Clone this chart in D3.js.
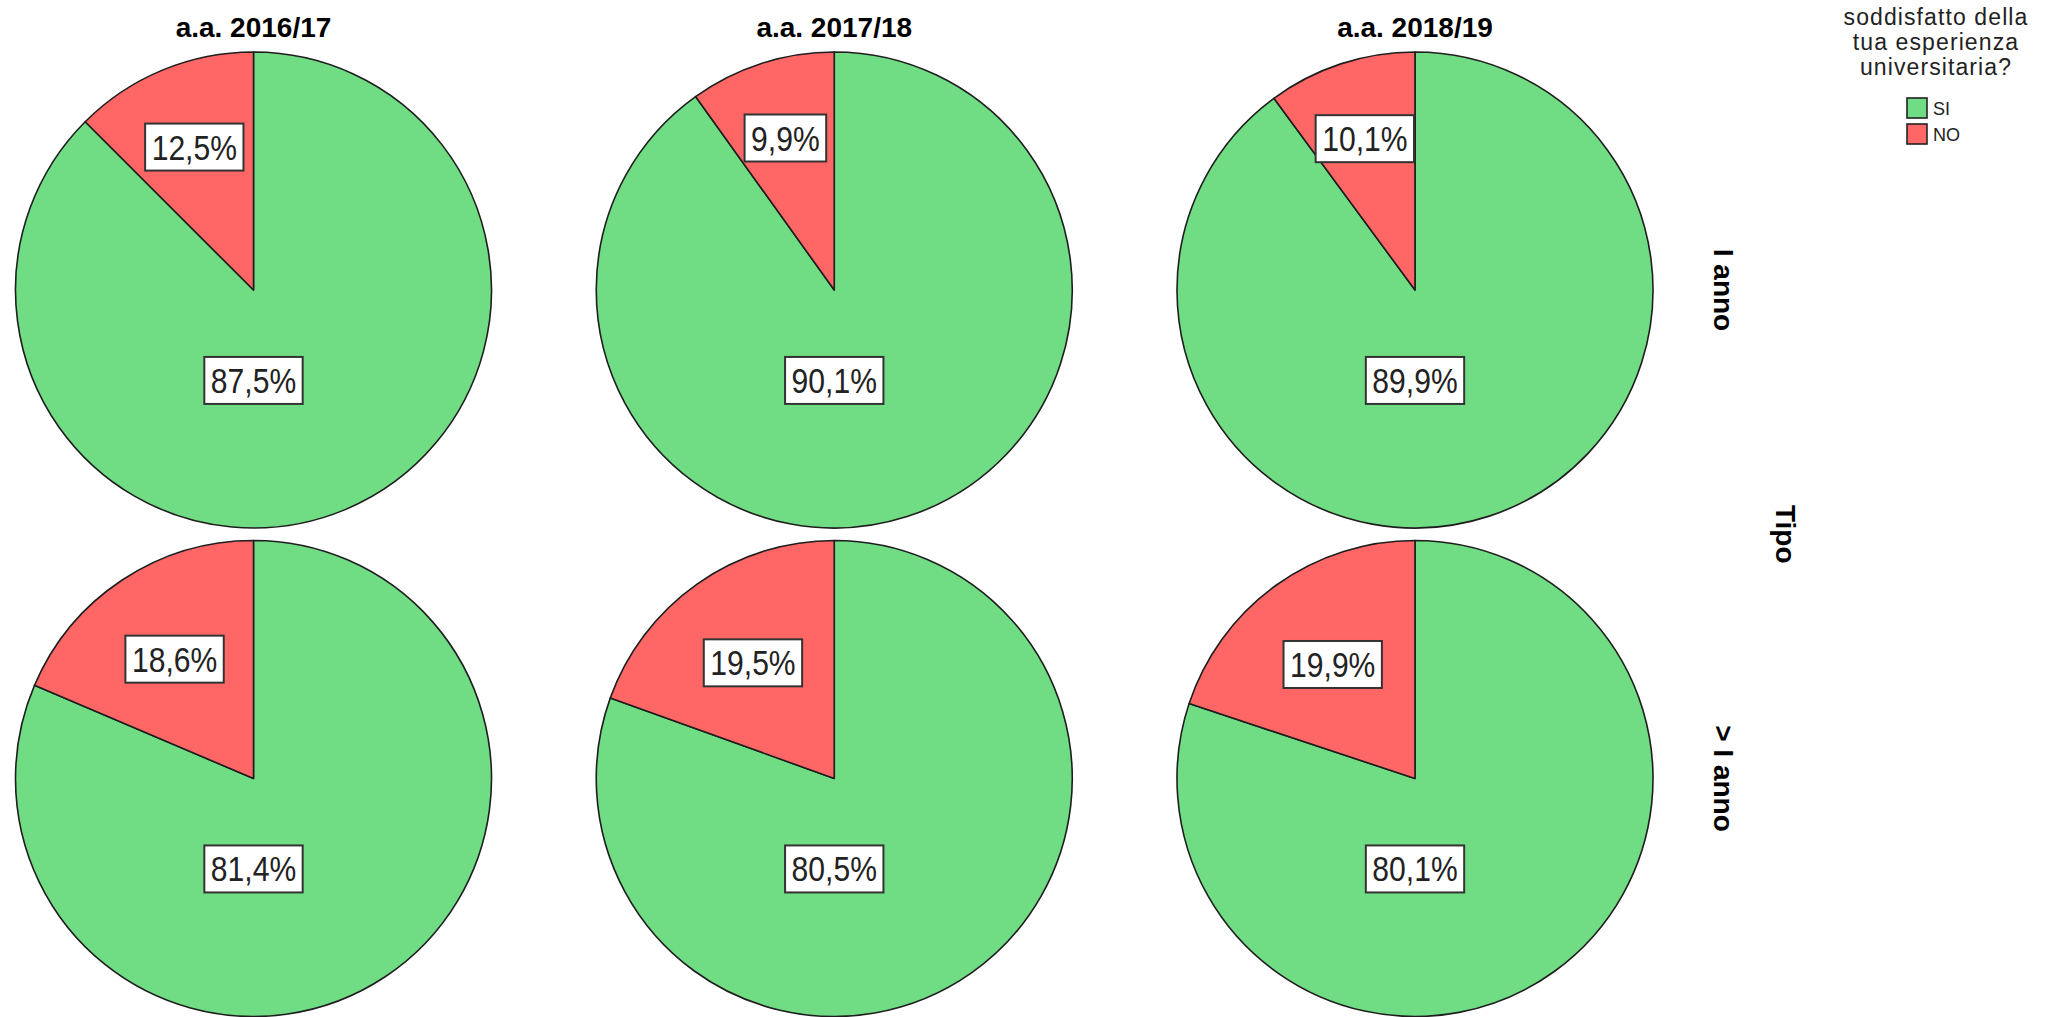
<!DOCTYPE html>
<html>
<head>
<meta charset="utf-8">
<script src="https://cdn.jsdelivr.net/npm/d3@7"></script>
<style>
  html, body { margin: 0; padding: 0; background: #ffffff; }
  svg { display: block; }
</style>
</head>
<body>
<svg id="chart" width="2047" height="1017"></svg>
<script>
// ---- data ----
const years = ["a.a. 2016/17", "a.a. 2017/18", "a.a. 2018/19"];
const tipi = ["I anno", "> I anno"];
const categories = ["SI", "NO"];
const siValues = [[87.5, 90.1, 89.9], [81.4, 80.5, 80.1]];
const noValues = [[12.5, 9.9, 10.1], [18.6, 19.5, 19.9]];
const legendTitle = ["soddisfatto della", "tua esperienza", "universitaria?"];
const rowTitle = "Tipo";

const colors = d3.scaleOrdinal().domain(categories).range(["#70dd84", "#ff6767"]);
const fmt = v => d3.format(".1f")(v).replace(".", ",") + "%";

const svg = d3.select("#chart");
const W = 2047, H = 1017;
const R = 238;

const x = d3.scalePoint().domain(years).range([253.5, 1415]);
const y = d3.scalePoint().domain(tipi).range([290, 778.5]);

const pie = d3.pie().sort(null).value(d => d.value);
const arc = d3.arc().innerRadius(0).outerRadius(R);

// column titles
svg.selectAll("text.coltitle").data(years).enter().append("text")
  .attr("class", "coltitle")
  .attr("x", d => x(d)).attr("y", 37)
  .attr("text-anchor", "middle")
  .attr("font-family", "Liberation Sans, Arial, sans-serif")
  .attr("font-weight", "bold").attr("font-size", 28).attr("fill", "#000")
  .text(d => d);

// cells
const cells = [];
tipi.forEach((t, ri) => years.forEach((yr, ci) => {
  cells.push({ tipo: t, year: yr, data: [
    { cat: "SI", value: siValues[ri][ci] },
    { cat: "NO", value: noValues[ri][ci] }
  ]});
}));

const LSCALE = 0.86, PAD = 6.5, BOXH = 47;

cells.forEach(c => {
  const g = svg.append("g").attr("transform", `translate(${x(c.year)},${y(c.tipo)})`);
  const arcs = pie(c.data);
  g.selectAll("path").data(arcs).enter().append("path")
    .attr("d", arc)
    .attr("fill", d => colors(d.data.cat))
    .attr("stroke", "#1e1e1e").attr("stroke-width", 1.6)
    .attr("stroke-linejoin", "round");

  arcs.forEach(a => {
    const frac = (a.endAngle - a.startAngle) / (2 * Math.PI);
    const lg = g.append("g");
    const txt = lg.append("text")
      .attr("font-family", "Liberation Sans, Arial, sans-serif")
      .attr("font-size", 35).attr("fill", "#222")
      .attr("text-anchor", "middle")
      .text(fmt(a.data.value));
    const tw = txt.node().getComputedTextLength() * LSCALE;
    const bw = tw + 2 * PAD;
    let lx, ly;
    if (frac > 0.5) {
      lx = 0; ly = R * 0.38;
    } else {
      const mid = (a.startAngle + a.endAngle) / 2;
      const dist = R * (0.75 - 0.8 * frac);
      lx = Math.sin(mid) * dist;
      ly = -Math.cos(mid) * dist;
      if (lx + bw / 2 > -1) lx = -1 - bw / 2;
    }
    lg.insert("rect", "text")
      .attr("x", lx - bw / 2).attr("y", ly - BOXH / 2)
      .attr("width", bw).attr("height", BOXH)
      .attr("fill", "#fff").attr("stroke", "#333").attr("stroke-width", 2);
    txt.attr("transform", `translate(${lx},${ly + 12.5}) scale(${LSCALE},1)`);
  });
});

// row labels (rotated)
svg.selectAll("text.rowlab").data(tipi).enter().append("text")
  .attr("class", "rowlab")
  .attr("transform", d => `translate(1714,${y(d)}) rotate(90)`)
  .attr("text-anchor", "middle")
  .attr("font-family", "Liberation Sans, Arial, sans-serif")
  .attr("font-weight", "bold").attr("font-size", 28).attr("fill", "#000")
  .text(d => d);

svg.append("text")
  .attr("transform", `translate(1776,${(y(tipi[0]) + y(tipi[1])) / 2}) rotate(90)`)
  .attr("text-anchor", "middle")
  .attr("font-family", "Liberation Sans, Arial, sans-serif")
  .attr("font-weight", "bold").attr("font-size", 28).attr("fill", "#000")
  .text(rowTitle);

// legend
const leg = svg.append("g");
leg.selectAll("text.lt").data(legendTitle).enter().append("text")
  .attr("class", "lt")
  .attr("x", 1936).attr("y", (d, i) => 25 + i * 25)
  .attr("text-anchor", "middle")
  .attr("font-family", "Liberation Sans, Arial, sans-serif")
  .attr("font-size", 23).attr("letter-spacing", 1.1).attr("fill", "#222")
  .text(d => d);

const li = leg.selectAll("g.li").data(categories).enter().append("g")
  .attr("class", "li")
  .attr("transform", (d, i) => `translate(1907,${98 + i * 26})`);
li.append("rect").attr("width", 20).attr("height", 20)
  .attr("fill", d => colors(d)).attr("stroke", "#222").attr("stroke-width", 1.6);
li.append("text").attr("x", 26).attr("y", 16.5)
  .attr("font-family", "Liberation Sans, Arial, sans-serif")
  .attr("font-size", 18).attr("fill", "#222")
  .text(d => d);
</script>
</body>
</html>
